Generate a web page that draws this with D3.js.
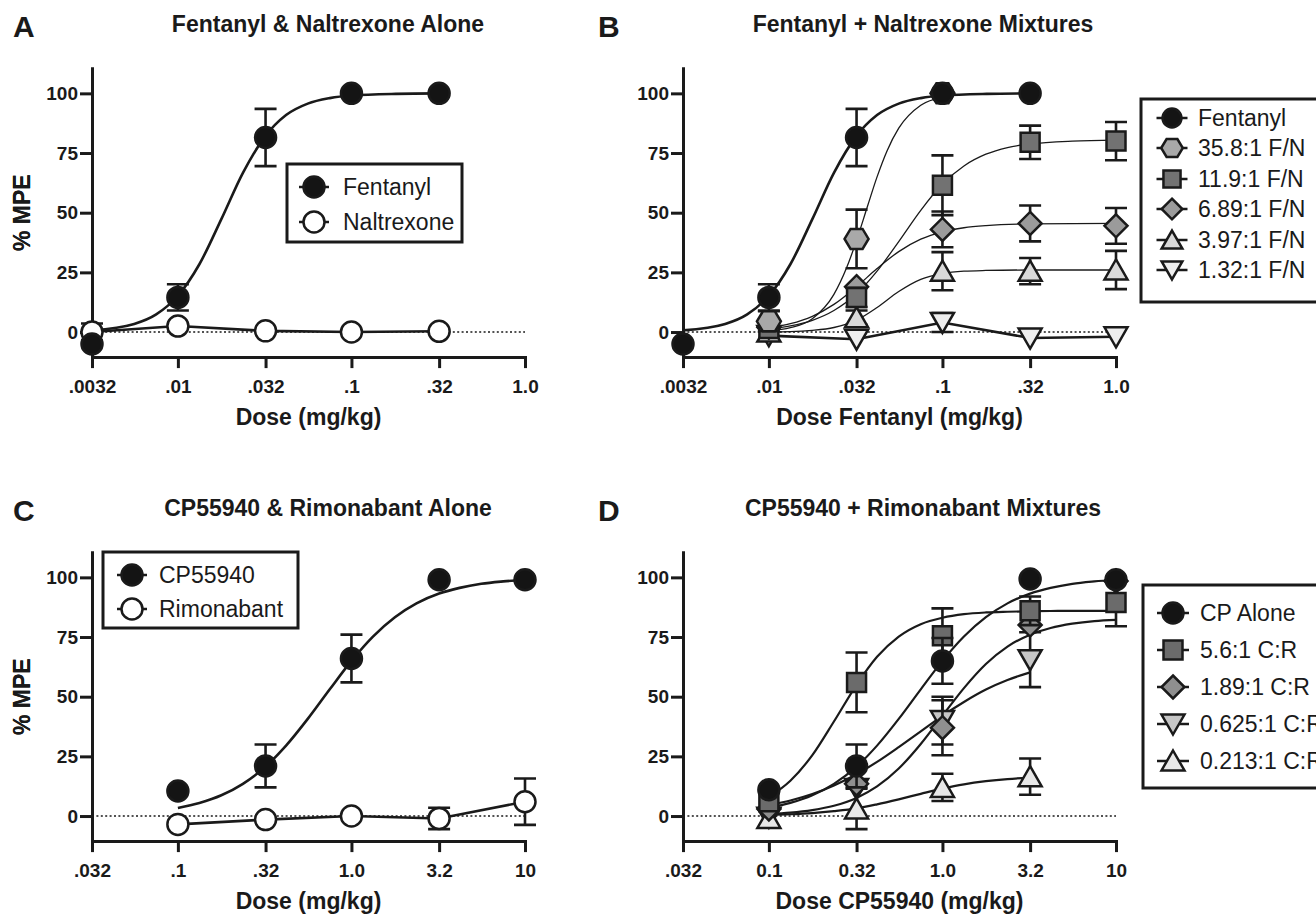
<!DOCTYPE html>
<html><head><meta charset="utf-8">
<script src="https://cdn.jsdelivr.net/npm/d3@7"></script>
<style>
body{margin:0;background:#fff;}
svg{display:block;}
</style></head><body>
<script>
// ---------------- DATA ----------------
const yTicks = [0, 25, 50, 75, 100];
const fentTicks = [0.0032, 0.01, 0.032, 0.1, 0.32, 1.0];
const fentTickLabels = [".0032", ".01", ".032", ".1", ".32", "1.0"];
const cpTicks = [0.032, 0.1, 0.32, 1.0, 3.2, 10];
const cpTickLabelsC = [".032", ".1", ".32", "1.0", "3.2", "10"];
const cpTickLabelsD = [".032", "0.1", "0.32", "1.0", "3.2", "10"];

// Panel A
const dosesA = [0.0032, 0.01, 0.032, 0.1, 0.32];
const fentanylMean = [-5, 14.5, 81.5, 100, 100];
const fentanylSem = [0, 5.5, 12, 0, 0];
const naltrexoneMean = [0, 2.5, 0.5, 0, 0.3];
const naltrexoneSem = [3.6, 0, 0, 0, 0];
const fentCurveDose = [0.0032, 0.0056, 0.0075, 0.01, 0.0133, 0.0178, 0.0237, 0.032, 0.042, 0.056, 0.075, 0.1, 0.18, 0.32];
const fentCurveVal = [0.7, 3.4, 7.4, 15.2, 28.4, 47.3, 66.7, 82.2, 90.9, 95.7, 98.0, 99.1, 99.8, 100];

// Panel B (mixtures, dose fentanyl)
const dosesB = [0.01, 0.032, 0.1, 0.32, 1.0];
const dosesB358 = [0.01, 0.032, 0.1];
const fn358Mean = [4.5, 39, 100];
const fn358Sem = [4.2, 12.3, 0];
const fn119Mean = [1.5, 14.5, 61.5, 79.5, 80];
const fn119Sem = [0, 4, 12.5, 7, 8];
const fn689Mean = [2, 19, 43, 45.5, 44.5];
const fn689Sem = [0, 0, 7.5, 7.5, 7.5];
const fn397Mean = [0, 6, 25.5, 25.5, 26];
const fn397Sem = [0, 3, 8, 5.5, 8];
const fn132Mean = [-1.5, -3, 4, -2.5, -2];
const fn132Sem = [0, 0, 4, 0, 0];
const fn358CurveDose = [0.01, 0.0133, 0.0178, 0.0237, 0.028, 0.032, 0.037, 0.042, 0.048, 0.056, 0.075, 0.1];
const fn358CurveVal = [0.6, 1.8, 5.6, 15.8, 26.8, 38.4, 52.7, 65, 76, 85.4, 95, 98.3];
const fn119CurveDose = [0.01, 0.0133, 0.0178, 0.0237, 0.032, 0.042, 0.056, 0.075, 0.1, 0.133, 0.178, 0.237, 0.32, 0.56, 1.0];
const fn119CurveVal = [1.4, 2.6, 4.9, 9.0, 16.0, 25.5, 37.9, 51.0, 62.0, 69.6, 74.5, 77.3, 78.8, 80.0, 80.4];
const fn689CurveDose = [0.01, 0.0133, 0.0178, 0.0237, 0.032, 0.042, 0.056, 0.075, 0.1, 0.133, 0.178, 0.32, 1.0];
const fn689CurveVal = [1.8, 3.5, 6.6, 11.6, 19.0, 26.6, 33.7, 38.9, 42.0, 43.7, 44.6, 45.3, 45.5];
const fn397CurveDose = [0.01, 0.0133, 0.0178, 0.0237, 0.032, 0.042, 0.056, 0.075, 0.1, 0.133, 0.178, 0.32, 1.0];
const fn397CurveVal = [0.1, 0.2, 0.7, 1.9, 5.0, 10.3, 17.0, 22.1, 24.5, 25.5, 25.8, 26, 26];

// Panel C
const dosesC = [0.1, 0.32, 1.0, 3.2, 10];
const cpMean = [10.5, 21, 66, 99, 99];
const cpSem = [0, 9, 10, 0, 0];
const rimMean = [-3.5, -1.5, 0, -1, 6];
const rimSem = [0, 0, 0, 4.5, 9.7];
const cpCurveDose = [0.1, 0.133, 0.178, 0.237, 0.32, 0.42, 0.56, 0.75, 1.0, 1.33, 1.78, 2.37, 3.2, 4.2, 5.6, 7.5, 10];
const cpCurveVal = [3.4, 5.5, 8.7, 13.5, 20.7, 29.5, 40.7, 53.1, 65.0, 75.2, 83.3, 89.1, 93.2, 95.6, 97.3, 98.3, 99.0];

// Panel D
const dosesD = [0.1, 0.32, 1.0, 3.2, 10];
const dosesDshort = [0.1, 0.32, 1.0, 3.2];
const cpAloneMean = [11, 21, 65, 99.3, 99];
const cpAloneSem = [0, 9, 9.6, 0, 0];
const cr56Mean = [6, 56, 75.5, 86, 89.5];
const cr56Sem = [0, 12.5, 11.5, 6, 10];
const cr189Mean = [3, 13.5, 37, 80, 98.5];
const cr189Sem = [0, 0, 11.5, 0, 0];
const cr0625Mean = [-0.5, 11.5, 40, 65.5];
const cr0625Sem = [0, 0, 10, 11.5];
const cr0213Mean = [-1, 3, 12, 16.5];
const cr0213Sem = [0, 8.5, 5.7, 7.6];
const dCurveDose = [0.1, 0.133, 0.178, 0.237, 0.32, 0.42, 0.56, 0.75, 1.0, 1.33, 1.78, 2.37, 3.2, 4.2, 5.6, 7.5, 10];
const cr56CurveVal = [8.0, 14.8, 25.5, 39.6, 55.0, 66.7, 75.2, 80.4, 83.1, 84.6, 85.3, 85.6, 85.8, 85.9, 86.0, 86.0, 86.0];
const cr189CurveVal = [0.8, 1.4, 2.5, 4.3, 7.6, 12.4, 19.9, 30.2, 42.0, 53.6, 63.7, 71.0, 76.0, 78.8, 80.6, 81.7, 82.2];
const dCurveDoseShort = [0.1, 0.133, 0.178, 0.237, 0.32, 0.42, 0.56, 0.75, 1.0, 1.33, 1.78, 2.37, 3.2];
const cr0625CurveVal = [4.6, 6.5, 9.2, 12.8, 17.5, 22.7, 28.9, 35.5, 42.0, 47.8, 53.0, 57.0, 60.2];
const cr0213CurveVal = [0.45, 0.75, 1.26, 2.06, 3.2, 4.9, 7.0, 9.3, 11.5, 13.3, 14.6, 15.5, 16.1];

// Legends
const legendALabels = ["Fentanyl", "Naltrexone"];
const legendBLabels = ["Fentanyl", "35.8:1 F/N", "11.9:1 F/N", "6.89:1 F/N", "3.97:1 F/N", "1.32:1 F/N"];
const legendCLabels = ["CP55940", "Rimonabant"];
const legendDLabels = ["CP Alone", "5.6:1 C:R", "1.89:1 C:R", "0.625:1 C:R", "0.213:1 C:R"];

// ---------------- STYLE ----------------
const FONT = '"Liberation Sans", Arial, Helvetica, sans-serif';
const INK = "#1a1a1a";
const C_BLACK = "#141414", C_WHITE = "#ffffff";
const C_HEX = "#a9a9a9", C_SQ = "#727272", C_DIA = "#9b9b9b", C_TRIUP = "#d9d9d9", C_TRIDN = "#eeeeee";
const C_SQ_D = "#6b6b6b", C_DIA_D = "#8f8f8f", C_TRIDN_D = "#c6c6c6", C_TRIUP_D = "#e8e8e8";

function shape(type, s) {
  s = s || 1;
  switch (type) {
    case "circle": { const r = 10.5 * s; return `M${-r},0A${r},${r} 0 1,0 ${r},0A${r},${r} 0 1,0 ${-r},0Z`; }
    case "square": { const h = 9.5 * s; return `M${-h},${-h}H${h}V${h}H${-h}Z`; }
    case "diamond": { const h = 11.5 * s; return `M0,${-h}L${h},0L0,${h}L${-h},0Z`; }
    case "triUp": { const w = 11.5 * s; return `M0,${-10.5 * s}L${w},${9.5 * s}L${-w},${9.5 * s}Z`; }
    case "triDown": { const w = 11.5 * s; return `M0,${10.5 * s}L${w},${-9.5 * s}L${-w},${-9.5 * s}Z`; }
    case "hex": { const a = 12 * s, b = 6 * s, c = 10 * s; return `M${-a},0L${-b},${-c}L${b},${-c}L${a},0L${b},${c}L${-b},${c}Z`; }
  }
}

const svg = d3.select("body").append("svg").attr("width", 1316).attr("height", 915)
  .style("font-family", FONT);

const panels = [
  { letter: "A", lx: 13, x0: 92, y0: 0, titleX: 328, title: "Fentanyl & Naltrexone Alone",
    xDomain: [0.0032, 1.0], ticks: fentTicks, tickLabels: fentTickLabels, xLabel: "Dose (mg/kg)",
    series: [
      { doses: dosesA, mean: naltrexoneMean, sem: naltrexoneSem, shape: "circle", fill: C_WHITE, connect: true },
      { doses: dosesA, mean: fentanylMean, sem: fentanylSem, shape: "circle", fill: C_BLACK, cd: fentCurveDose, cv: fentCurveVal, cw: 2.6 }
    ] },
  { letter: "B", lx: 598, x0: 683, y0: 0, titleX: 923, title: "Fentanyl + Naltrexone Mixtures",
    xDomain: [0.0032, 1.0], ticks: fentTicks, tickLabels: fentTickLabels, xLabel: "Dose Fentanyl (mg/kg)",
    series: [
      { doses: dosesB, mean: fn132Mean, sem: fn132Sem, shape: "triDown", fill: C_TRIDN, connect: true },
      { doses: dosesB, mean: fn397Mean, sem: fn397Sem, shape: "triUp", fill: C_TRIUP, cd: fn397CurveDose, cv: fn397CurveVal, cw: 1.3 },
      { doses: dosesB, mean: fn689Mean, sem: fn689Sem, shape: "diamond", fill: C_DIA, cd: fn689CurveDose, cv: fn689CurveVal, cw: 1.3 },
      { doses: dosesB, mean: fn119Mean, sem: fn119Sem, shape: "square", fill: C_SQ, cd: fn119CurveDose, cv: fn119CurveVal, cw: 1.3 },
      { doses: dosesB358, mean: fn358Mean, sem: fn358Sem, shape: "hex", fill: C_HEX, cd: fn358CurveDose, cv: fn358CurveVal, cw: 1.3 },
      { doses: dosesA, mean: fentanylMean, sem: fentanylSem, shape: "circle", fill: C_BLACK, cd: fentCurveDose, cv: fentCurveVal, cw: 2.6 }
    ] },
  { letter: "C", lx: 13, x0: 92, y0: 484, titleX: 328, title: "CP55940 & Rimonabant Alone",
    xDomain: [0.032, 10], ticks: cpTicks, tickLabels: cpTickLabelsC, xLabel: "Dose (mg/kg)",
    series: [
      { doses: dosesC, mean: rimMean, sem: rimSem, shape: "circle", fill: C_WHITE, connect: true },
      { doses: dosesC, mean: cpMean, sem: cpSem, shape: "circle", fill: C_BLACK, cd: cpCurveDose, cv: cpCurveVal, cw: 2.6 }
    ] },
  { letter: "D", lx: 598, x0: 683, y0: 484, titleX: 923, title: "CP55940 + Rimonabant Mixtures",
    xDomain: [0.032, 10], ticks: cpTicks, tickLabels: cpTickLabelsD, xLabel: "Dose CP55940 (mg/kg)",
    series: [
      { doses: dosesDshort, mean: cr0625Mean, sem: cr0625Sem, shape: "triDown", fill: C_TRIDN_D, cd: dCurveDoseShort, cv: cr0625CurveVal, cw: 2.2 },
      { doses: dosesDshort, mean: cr0213Mean, sem: cr0213Sem, shape: "triUp", fill: C_TRIUP_D, cd: dCurveDoseShort, cv: cr0213CurveVal, cw: 2.2 },
      { doses: dosesD, mean: cr189Mean, sem: cr189Sem, shape: "diamond", fill: C_DIA_D, cd: dCurveDose, cv: cr189CurveVal, cw: 2.2 },
      { doses: dosesD, mean: cr56Mean, sem: cr56Sem, shape: "square", fill: C_SQ_D, cd: dCurveDose, cv: cr56CurveVal, cw: 2.2 },
      { doses: dosesD, mean: cpAloneMean, sem: cpAloneSem, shape: "circle", fill: C_BLACK, cd: cpCurveDose, cv: cpCurveVal, cw: 2.2 }
    ] }
];

function drawPanel(p) {
  const g = svg.append("g");
  const x = d3.scaleLog().domain(p.xDomain).range([p.x0, p.x0 + 433]);
  const y = d3.scaleLinear().domain([-10.5, 110.5]).range([p.y0 + 357.1, p.y0 + 68.3]);

  // letter & title
  g.append("text").attr("x", p.lx).attr("y", p.y0 + 37).text(p.letter)
    .attr("font-size", 30).attr("font-weight", "bold").attr("fill", INK);
  g.append("text").attr("x", p.titleX).attr("y", p.y0 + 32).attr("text-anchor", "middle").text(p.title)
    .attr("font-size", 23).attr("font-weight", "bold").attr("fill", INK);

  // zero reference dotted line
  g.append("line").attr("x1", x.range()[0]).attr("x2", x.range()[1])
    .attr("y1", y(0)).attr("y2", y(0))
    .attr("stroke", INK).attr("stroke-width", 1.6).attr("stroke-dasharray", "2,2.4");

  // axes
  const ax = g.append("g").attr("transform", `translate(0,${y(-10.5)})`)
    .call(d3.axisBottom(x).tickValues(p.ticks).tickFormat((d, i) => p.tickLabels[i])
      .tickSize(11).tickSizeOuter(0).tickPadding(11));
  const ay = g.append("g").attr("transform", `translate(${p.x0},0)`)
    .call(d3.axisLeft(y).tickValues(yTicks).tickFormat(d3.format("d"))
      .tickSize(12).tickSizeOuter(0).tickPadding(2));
  [ax, ay].forEach(a => {
    a.select(".domain").attr("stroke", INK).attr("stroke-width", 3).attr("stroke-linecap", "square");
    a.selectAll(".tick line").attr("stroke", INK).attr("stroke-width", 3);
    a.selectAll(".tick text").attr("font-size", 19).attr("font-weight", "bold")
      .attr("font-family", FONT).attr("fill", INK);
  });

  // axis titles
  g.append("text").attr("x", p.x0 + 216.5).attr("y", p.y0 + 425).attr("text-anchor", "middle")
    .text(p.xLabel).attr("font-size", 23).attr("font-weight", "bold").attr("fill", INK);
  g.append("text").attr("transform", `translate(30,${p.y0 + 212.7}) rotate(-90)`)
    .attr("text-anchor", "middle").text("% MPE")
    .attr("font-size", 23).attr("font-weight", "bold").attr("fill", INK);

  // curves and connecting lines
  const fit = d3.line().x(d => x(d[0])).y(d => y(d[1])).curve(d3.curveMonotoneX);
  const straight = d3.line().x(d => x(d[0])).y(d => y(d[1]));
  p.series.forEach(s => {
    if (s.cd) {
      g.append("path").attr("d", fit(d3.zip(s.cd, s.cv))).attr("fill", "none")
        .attr("stroke", INK).attr("stroke-width", s.cw);
    }
    if (s.connect) {
      g.append("path").attr("d", straight(d3.zip(s.doses, s.mean))).attr("fill", "none")
        .attr("stroke", INK).attr("stroke-width", 2.6);
    }
  });

  // error bars + markers
  p.series.forEach(s => {
    const sg = g.append("g");
    s.doses.forEach((d, i) => {
      const e = s.sem[i];
      if (e > 0) {
        const cx = x(d), y1 = y(s.mean[i] + e), y2 = y(s.mean[i] - e);
        sg.append("path")
          .attr("d", `M${cx},${y1}V${y2}M${cx - 11},${y1}H${cx + 11}M${cx - 11},${y2}H${cx + 11}`)
          .attr("stroke", INK).attr("stroke-width", 2.6).attr("fill", "none");
      }
    });
    s.doses.forEach((d, i) => {
      sg.append("path").attr("d", shape(s.shape, 1))
        .attr("transform", `translate(${x(d)},${y(s.mean[i])})`)
        .attr("fill", s.fill).attr("stroke", INK).attr("stroke-width", 2.5);
    });
  });
}

panels.forEach(drawPanel);

function drawLegend(L) {
  const g = svg.append("g");
  g.append("rect").attr("x", L.x).attr("y", L.y).attr("width", L.w).attr("height", L.h)
    .attr("fill", "#fff").attr("stroke", INK).attr("stroke-width", 3);
  L.labels.forEach((lab, i) => {
    const cy = L.rows[i];
    g.append("line").attr("x1", L.mx - L.half).attr("x2", L.mx + L.half).attr("y1", cy).attr("y2", cy)
      .attr("stroke", INK).attr("stroke-width", 2.5);
    g.append("path").attr("d", shape(L.shapes[i], L.scale)).attr("transform", `translate(${L.mx},${cy})`)
      .attr("fill", L.fills[i]).attr("stroke", INK).attr("stroke-width", 2.5);
    g.append("text").attr("x", L.tx).attr("y", cy).attr("dy", "0.36em").text(lab)
      .attr("font-size", 23).attr("fill", INK);
  });
}

drawLegend({ x: 287, y: 164, w: 175, h: 78, rows: [187, 222], mx: 314, half: 15, tx: 343, scale: 1,
  labels: legendALabels, shapes: ["circle", "circle"], fills: [C_BLACK, C_WHITE] });
drawLegend({ x: 1141, y: 99, w: 220, h: 203, rows: [118, 148, 179, 209, 240, 270], mx: 1172, half: 15.5, tx: 1198, scale: 0.9,
  labels: legendBLabels, shapes: ["circle", "hex", "square", "diamond", "triUp", "triDown"],
  fills: [C_BLACK, C_HEX, C_SQ, C_DIA, C_TRIUP, C_TRIDN] });
drawLegend({ x: 103, y: 552, w: 195, h: 76, rows: [575, 609], mx: 132, half: 15, tx: 159, scale: 1,
  labels: legendCLabels, shapes: ["circle", "circle"], fills: [C_BLACK, C_WHITE] });
drawLegend({ x: 1143, y: 585, w: 220, h: 203, rows: [613, 650, 687, 724, 761], mx: 1173, half: 16, tx: 1200, scale: 1,
  labels: legendDLabels, shapes: ["circle", "square", "diamond", "triDown", "triUp"],
  fills: [C_BLACK, C_SQ_D, C_DIA_D, C_TRIDN_D, C_TRIUP_D] });
</script>
</body></html>
